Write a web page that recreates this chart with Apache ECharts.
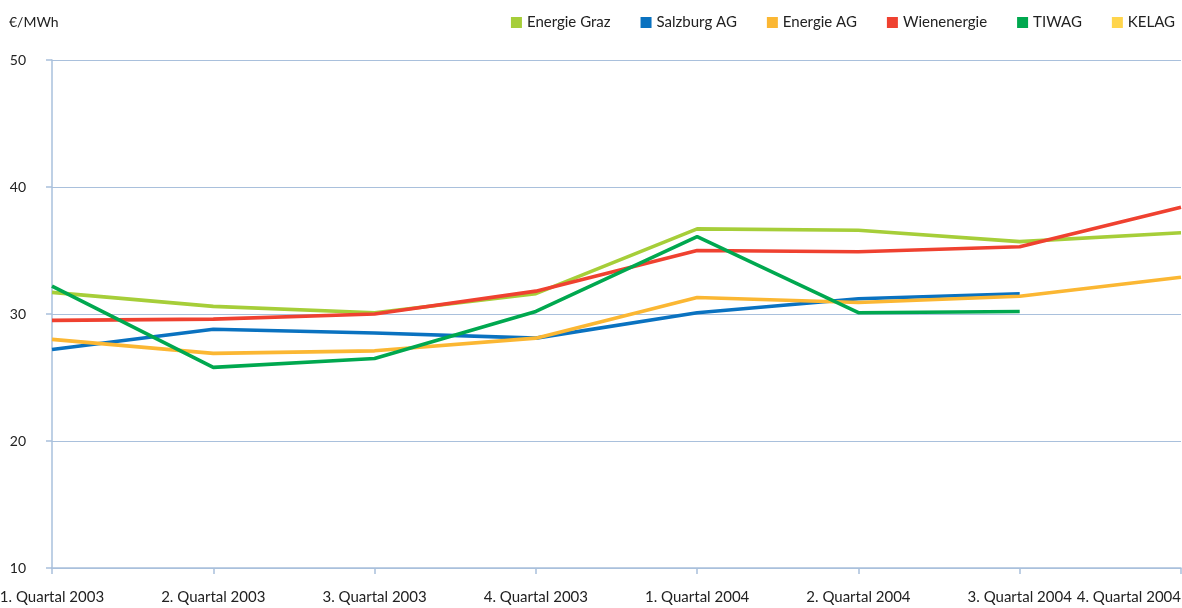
<!DOCTYPE html>
<html>
<head>
<meta charset="utf-8">
<script src="https://cdn.jsdelivr.net/npm/echarts@6/dist/echarts.min.js"></script>
<style>
    html, body { margin: 0; padding: 0; background: #fff; }
    #main_chart { width: 1182px; height: 608px; }
</style>
</head>
<body>
<div id="main_chart"></div>
<script>
var quarters = ['1. Quartal 2003', '2. Quartal 2003', '3. Quartal 2003', '4. Quartal 2003',
    '1. Quartal 2004', '2. Quartal 2004', '3. Quartal 2004', '4. Quartal 2004'];

// €/MWh je Quartal
var energieGraz = [31.7, 30.6, 30.1, 31.6, 36.7, 36.6, 35.7, 36.4];
var salzburgAG = [27.2, 28.8, 28.5, 28.1, 30.1, 31.2, 31.6, null];
var energieAG = [28.0, 26.9, 27.1, 28.1, 31.3, 30.9, 31.4, 32.9];
var wienenergie = [29.5, 29.6, 30.0, 31.8, 35.0, 34.9, 35.3, 38.4];
var tiwag = [32.2, 25.8, 26.5, 30.2, 36.1, 30.1, 30.2, null];
var kelag = [null, null, null, null, null, null, null, null];

var yTicks = { min: 10, max: 50, interval: 10 };

var fontFamily = 'Lato, "Open Sans", sans-serif';
var axisColor = '#a9c0dc';

function lineSeries(name, data, color) {
    return {
        name: name,
        type: 'line',
        data: data,
        symbol: 'none',
        lineStyle: { width: 3.6, color: color },
        itemStyle: { color: color }
    };
}

var option = {
    animation: false,
    textStyle: { fontFamily: fontFamily },
    title: {
        text: '€/MWh',
        left: 4,
        top: 10,
        textStyle: { fontSize: 14, fontWeight: 'normal', color: '#222', fontFamily: fontFamily }
    },
    legend: {
        right: 2,
        top: 10,
        icon: 'rect',
        itemWidth: 11,
        itemHeight: 11,
        itemGap: 30,
        textStyle: { fontSize: 15, color: '#222', fontFamily: fontFamily }
    },
    grid: {
        top: 60,
        left: 52,
        right: 1,
        bottom: 40,
        containLabel: false,
        outerBoundsMode: 'none'
    },
    xAxis: {
        type: 'category',
        data: quarters,
        boundaryGap: false,
        axisLine: { lineStyle: { color: axisColor, width: 1.5 } },
        axisTick: { show: true, length: 6, lineStyle: { color: axisColor, width: 1.5 } },
        axisLabel: {
            fontSize: 15, color: '#222', margin: 22, interval: 0, hideOverlap: false,
            alignMaxLabel: 'right'
        },
        splitLine: { show: false }
    },
    yAxis: {
        type: 'value',
        min: yTicks.min,
        max: yTicks.max,
        interval: yTicks.interval,
        axisLine: { show: true, lineStyle: { color: axisColor, width: 1.5 } },
        axisTick: { show: true, length: 6, lineStyle: { color: axisColor, width: 1.5 } },
        axisLabel: { fontSize: 14, color: '#222', margin: 26 },
        splitLine: { lineStyle: { color: axisColor, width: 1.2 } }
    },
    series: [
        lineSeries('Energie Graz', energieGraz, '#a6ce39'),
        lineSeries('Salzburg AG', salzburgAG, '#0a72c0'),
        lineSeries('Energie AG', energieAG, '#fbb733'),
        lineSeries('Wienenergie', wienenergie, '#ef4130'),
        lineSeries('TIWAG', tiwag, '#00a84f'),
        lineSeries('KELAG', kelag, '#ffd54c')
    ]
};

echarts.init(document.getElementById('main_chart')).setOption(option);
</script>
</body>
</html>
